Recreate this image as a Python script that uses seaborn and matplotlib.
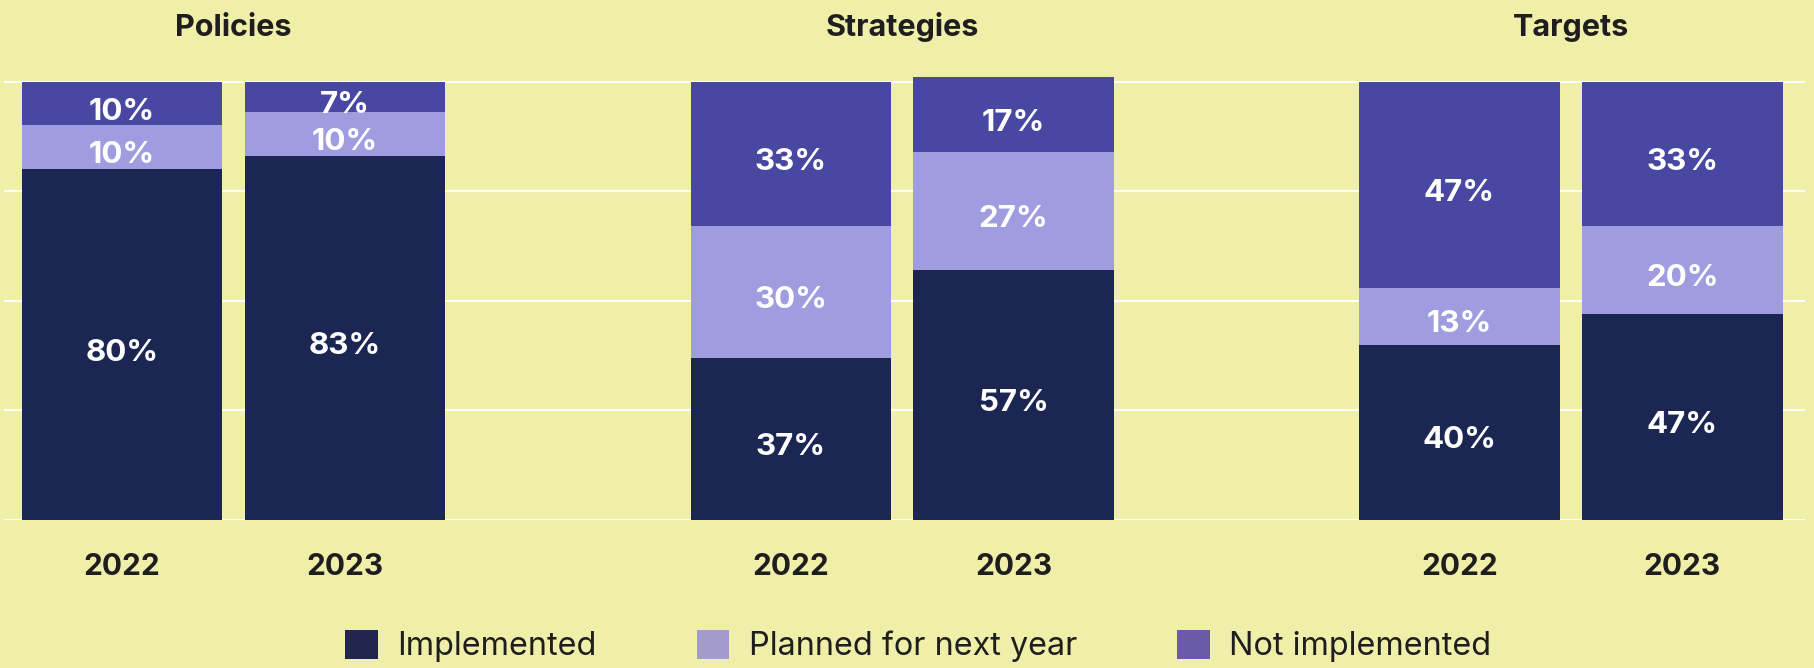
import pandas as pd
import seaborn as sns
import matplotlib.pyplot as plt
import matplotlib.transforms as mtransforms
from matplotlib.patches import Patch

# data (percent of respondents)
groups = ['Policies', 'Strategies', 'Targets']
years = ['2022', '2023']
implemented = [80, 83, 37, 57, 40, 47]
planned = [10, 10, 30, 27, 13, 20]
not_implemented = [10, 7, 33, 17, 47, 33]

series_names = ['Implemented', 'Planned for next year', 'Not implemented']
bar_colors = ['#1c2653', '#a09ce0', '#4848a3']
legend_colors = ['#22264f', '#a39bcb', '#6b5aa5']
bg = '#f0efaa'

rows = []
for i, g in enumerate(groups):
    for j, y in enumerate(years):
        k = i * 2 + j
        rows.append({
            'group': g, 'year': y,
            'pos': i * 3 + j,  # leave an empty slot between groups
            'impl': implemented[k],
            'plan': planned[k],
            'notimpl': not_implemented[k],
        })
df = pd.DataFrame(rows)
df['c1'] = df['impl']
df['c2'] = df['impl'] + df['plan']
df['c3'] = df['impl'] + df['plan'] + df['notimpl']

sns.set_style('white', {
    'axes.facecolor': bg, 'figure.facecolor': bg,
    'axes.grid': True, 'grid.color': 'white',
})
plt.rcParams['font.family'] = ['Inter', 'DejaVu Sans']

fig = plt.figure(figsize=(18.15, 6.68), dpi=100)
ax = fig.add_axes([4 / 1815, 0.2216, (1805 - 4) / 1815, 0.6693])

# stacked bars by overplotting cumulative totals, tallest first
for col, c in zip(['c3', 'c2', 'c1'], bar_colors[::-1]):
    sns.barplot(data=df, x='pos', y=col, native_scale=True, width=0.9,
                color=c, saturation=1, errorbar=None, linewidth=0, ax=ax)

# value labels, centred in each segment
for _, r in df.iterrows():
    bottoms = [0, r['c1'], r['c2']]
    vals = [r['impl'], r['plan'], r['notimpl']]
    for b, v in zip(bottoms, vals):
        ax.annotate(f'{v}%', (r['pos'], b + v / 2), xytext=(0, -16),
                    textcoords='offset pixels', ha='center', va='baseline',
                    color='white', fontsize=22.5, fontweight='bold')

ax.set_xlim(-0.53, 7.55)
ax.set_ylim(0, 102)
ax.set_yticks([0, 25, 50, 75, 100])
ax.set_yticklabels([])
ax.grid(axis='y', color='white', linewidth=1.5)
ax.grid(axis='x', visible=False)
ax.set_axisbelow(True)
ax.set_xticks(df['pos'])
ax.set_xticklabels(df['year'], fontsize=21.5, fontweight='bold', color='#1e1e1e')
ax.tick_params(axis='x', length=0, pad=24)
ax.tick_params(axis='y', length=0)
ax.set_xlabel('')
ax.set_ylabel('')
sns.despine(ax=ax, left=True, bottom=True)

# group titles above each pair of bars
trans = mtransforms.blended_transform_factory(ax.transData, fig.transFigure)
for i, g in enumerate(groups):
    fig.text(i * 3 + 0.5, 1 - 36 / 668, g, transform=trans, ha='center',
             va='baseline', fontsize=22, fontweight='bold', color='#1e1e1e')

handles = [Patch(facecolor=c, edgecolor='none') for c in legend_colors]
fig.legend(handles, series_names, loc='center', bbox_to_anchor=(0.506, 1 - 646 / 668),
           ncol=3, frameon=False, fontsize=23.3, handlelength=1.0, handleheight=1.0,
           handletextpad=0.6, columnspacing=3.1, labelcolor='#1e1e1e')

fig.savefig('out.png', dpi=100, facecolor=bg)
